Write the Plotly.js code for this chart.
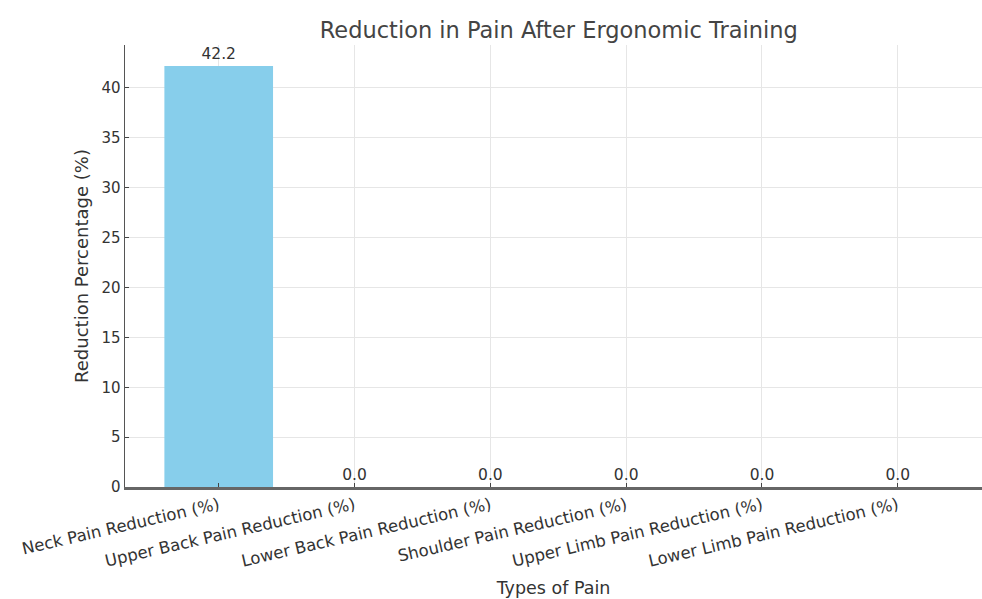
<!DOCTYPE html>
<html>
<head>
<meta charset="utf-8">
<script src="https://cdn.plot.ly/plotly-3.0.1.min.js"></script>
<style>html,body{margin:0;padding:0;background:#fff;}#chart{width:982px;height:599px;}</style>
</head>
<body>
<div id="chart"></div>
<script>
const categories = [
  "Neck Pain Reduction (%)",
  "Upper Back Pain Reduction (%)",
  "Lower Back Pain Reduction (%)",
  "Shoulder Pain Reduction (%)",
  "Upper Limb Pain Reduction (%)",
  "Lower Limb Pain Reduction (%)"
];
const reductions = [42.2, 0.0, 0.0, 0.0, 0.0, 0.0];
const yTicks = [0, 5, 10, 15, 20, 25, 30, 35, 40];

const trace = {
  type: "bar",
  x: categories.map((c, i) => i),
  y: reductions,
  width: 0.8,
  marker: {color: "#87CEEB"},
  text: reductions.map(v => v.toFixed(1)),
  textposition: "outside",
  textfont: {family: "DejaVu Sans", size: 15.5, color: "#333"},
  cliponaxis: false,
  hoverinfo: "none"
};

const layout = {
  width: 982, height: 599,
  margin: {l: 125, r: 0, t: 45, b: 112},
  paper_bgcolor: "#fff", plot_bgcolor: "#fff",
  showlegend: false,
  font: {family: "DejaVu Sans", color: "#333"},
  title: {
    text: "Reduction in Pain After Ergonomic Training",
    font: {family: "DejaVu Sans", size: 22.5, color: "#444"},
    x: 0.569, xanchor: "center", y: 0.95, yanchor: "middle"
  },
  xaxis: {
    range: [-0.69, 5.62],
    tickmode: "array",
    tickvals: categories.map((c, i) => i),
    ticktext: categories,
    tickangle: -13,
    tickfont: {size: 16.5, color: "#333"},
    ticks: "inside", ticklen: 4, tickcolor: "#444",
    showgrid: true, gridcolor: "#e6e6e6", gridwidth: 1,
    showline: true, linecolor: "#666", linewidth: 2.5,
    zeroline: false,
    title: {text: "Types of Pain", font: {size: 17.5, color: "#333"}, standoff: 12}
  },
  yaxis: {
    range: [0, 44.31],
    tickmode: "array",
    tickvals: yTicks,
    tickfont: {size: 15, color: "#333"},
    ticks: "inside", ticklen: 4, tickcolor: "#444",
    showgrid: true, gridcolor: "#e6e6e6", gridwidth: 1,
    showline: true, linecolor: "#555", linewidth: 1.5,
    zeroline: false,
    title: {text: "Reduction Percentage (%)", font: {size: 18, color: "#333"}, standoff: 8}
  },
  bargap: 0.2
};

Plotly.newPlot("chart", [trace], layout, {displayModeBar: false, staticPlot: true});
</script>
</body>
</html>
